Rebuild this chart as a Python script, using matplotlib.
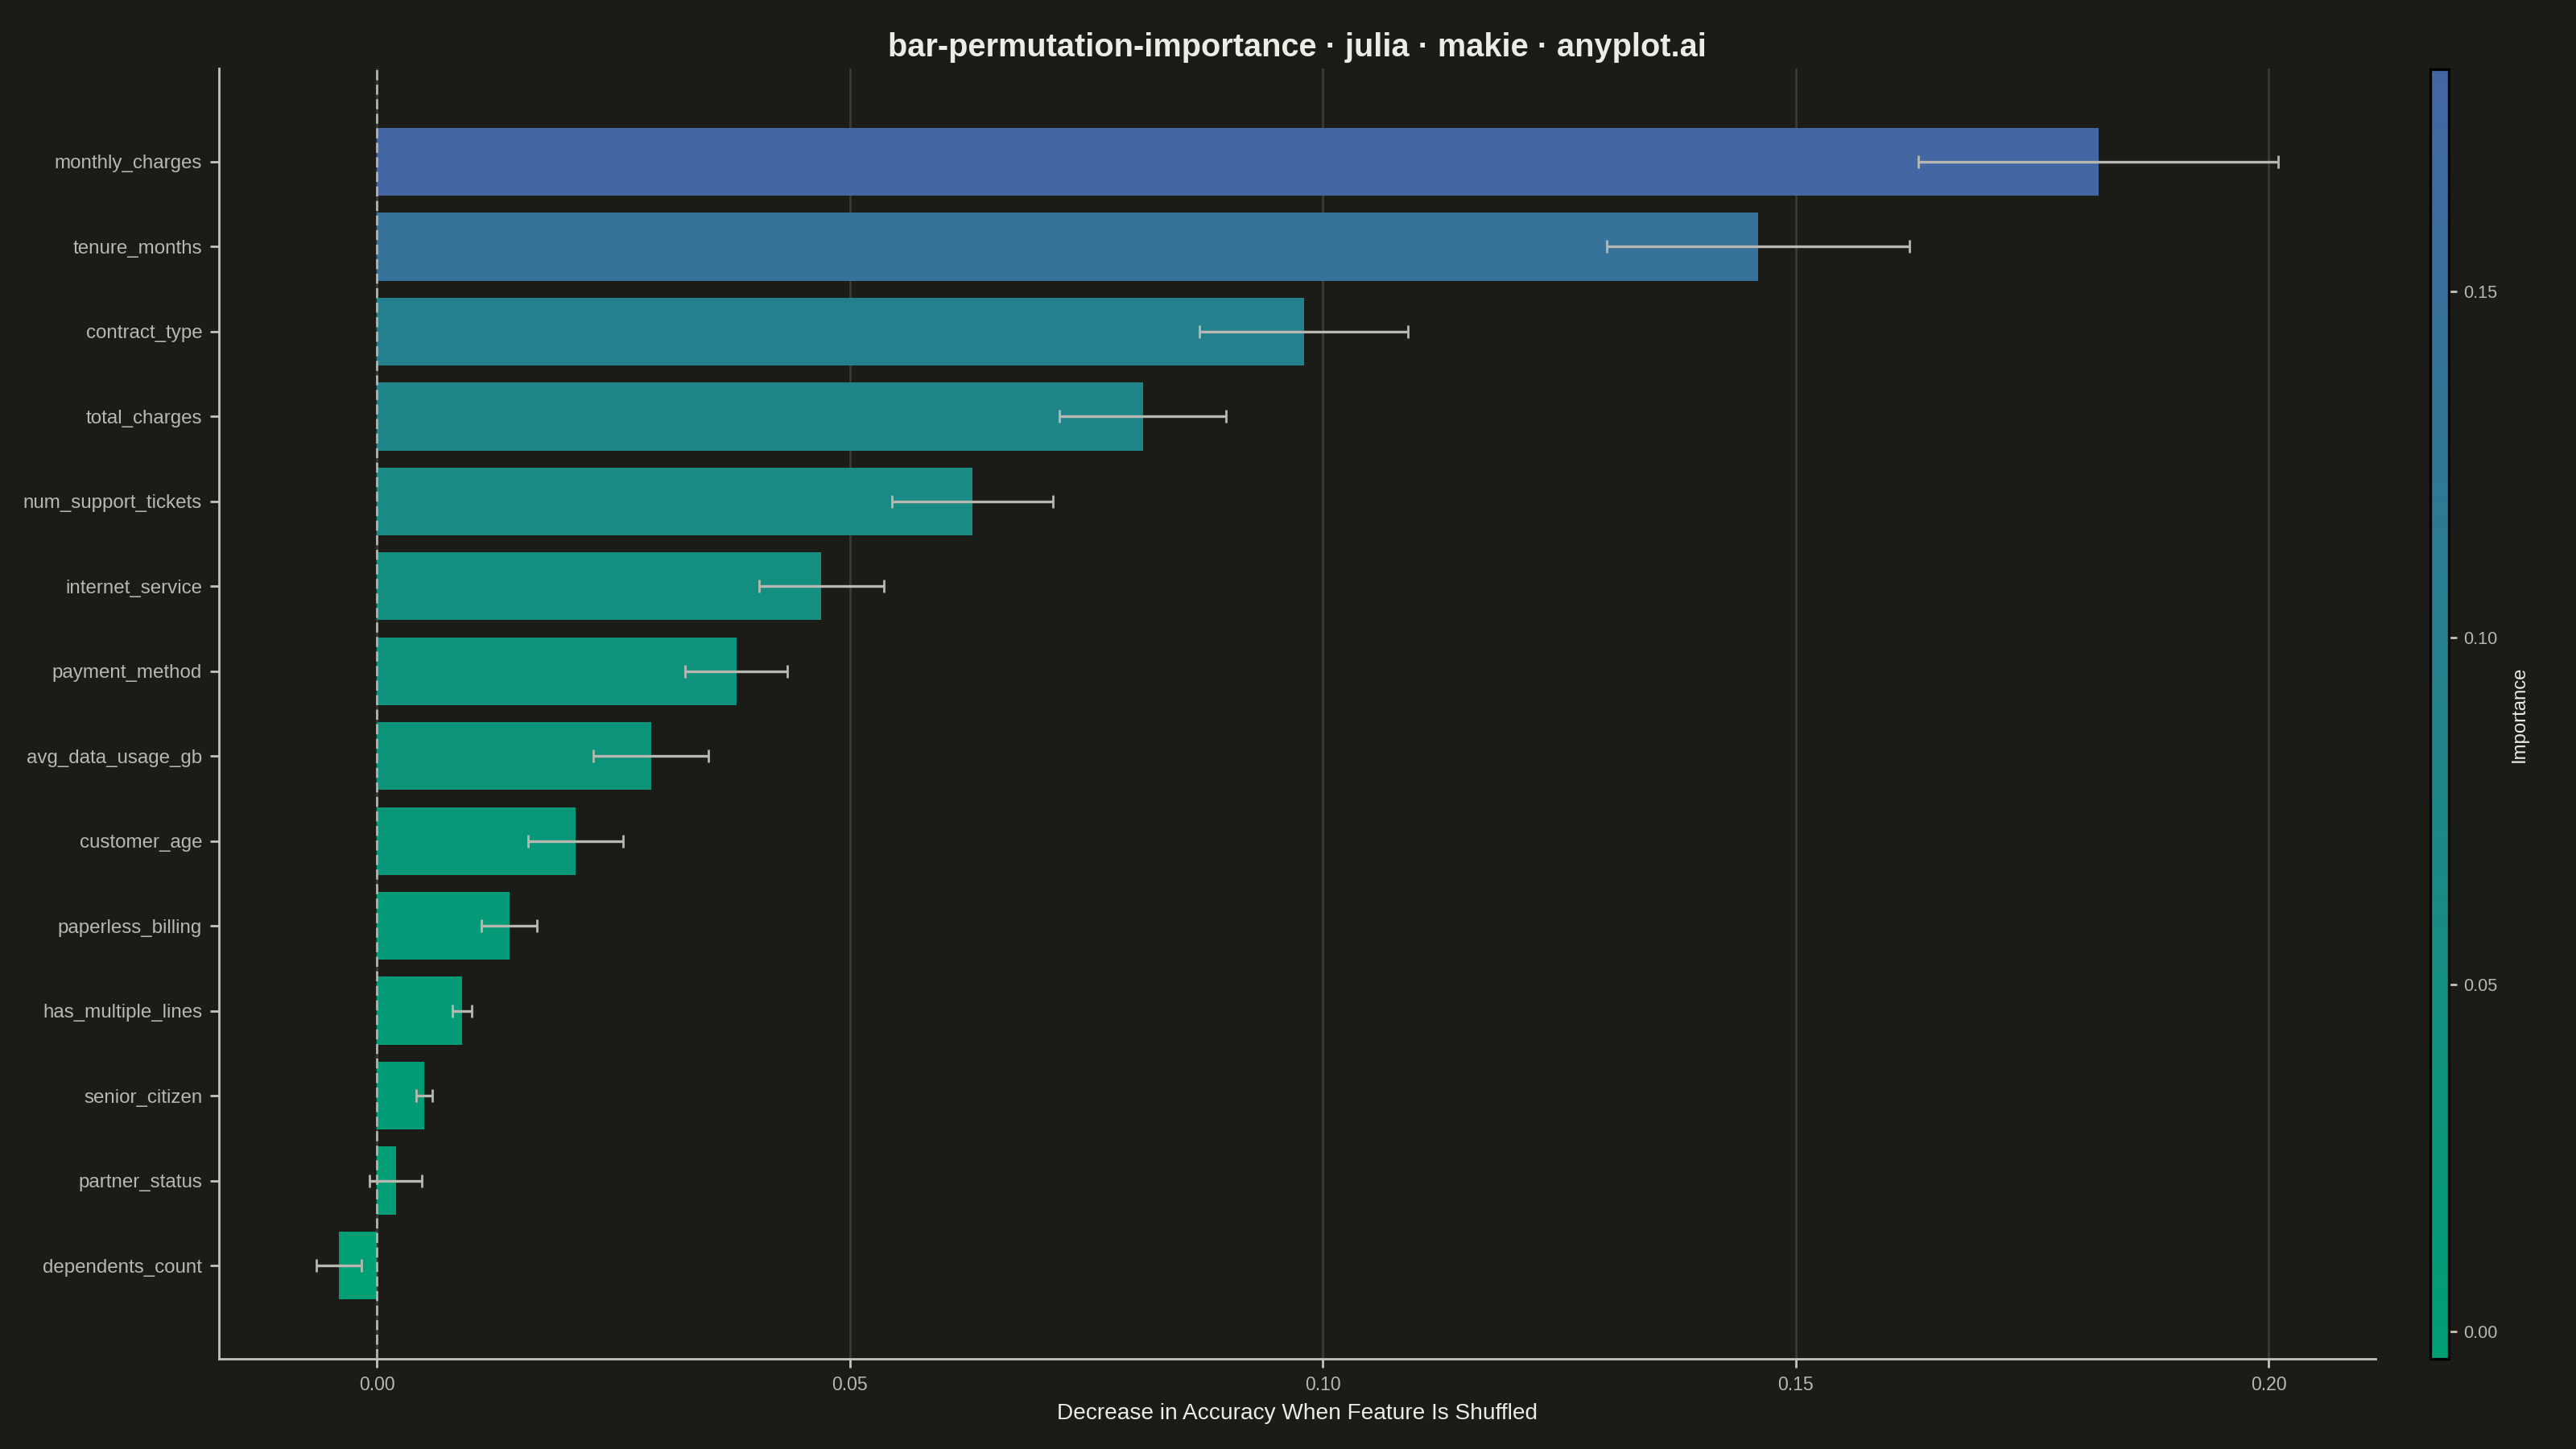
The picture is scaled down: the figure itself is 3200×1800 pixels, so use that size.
import numpy as np
import matplotlib
matplotlib.use("Agg")
import matplotlib.pyplot as plt
from matplotlib.colors import LinearSegmentedColormap, Normalize
from matplotlib.cm import ScalarMappable

# Permutation importance data (top feature first)
features = [
    "monthly_charges", "tenure_months", "contract_type", "total_charges",
    "num_support_tickets", "internet_service", "payment_method",
    "avg_data_usage_gb", "customer_age", "paperless_billing",
    "has_multiple_lines", "senior_citizen", "partner_status", "dependents_count",
]
importance_mean = [
    0.182, 0.146, 0.098, 0.081, 0.063, 0.047, 0.038,
    0.029, 0.021, 0.014, 0.009, 0.005, 0.002, -0.004,
]
importance_std = [
    0.019, 0.016, 0.011, 0.0088, 0.0085, 0.0066, 0.0054,
    0.0061, 0.0050, 0.0029, 0.0010, 0.00085, 0.0028, 0.0024,
]
xticks = [0.00, 0.05, 0.10, 0.15, 0.20]
cbar_ticks = [0.00, 0.05, 0.10, 0.15]

bg = "#1B1B18"
fg_tick = "#B8B8B0"
fg_text = "#ECEBE4"
spine_col = "#C4C4BC"

plt.rcParams["font.family"] = ["Liberation Sans", "DejaVu Sans"]

cmap = LinearSegmentedColormap.from_list("imp", ["#009E73", "#4467A3"])
norm = Normalize(vmin=min(importance_mean), vmax=max(importance_mean))

fig = plt.figure(figsize=(16, 9), dpi=200, facecolor=bg)
ax = fig.add_axes([0.085, 0.0622, 0.8372, 0.8906], facecolor=bg)
cax = fig.add_axes([0.9434, 0.0622, 0.0072, 0.8900])

n = len(features)
ypos = np.arange(n)[::-1]
colors = [cmap(norm(v)) for v in importance_mean]

ax.barh(ypos, importance_mean, height=0.8, color=colors, zorder=2)
ax.axvline(0, color="#B4B4AC", linestyle=(0, (4.5, 2.0)), linewidth=1.0, zorder=3)
ax.errorbar(
    importance_mean, ypos, xerr=importance_std, fmt="none",
    ecolor="#B8B8B0", elinewidth=1.2, capsize=3.0, capthick=1.0, zorder=4,
)

ax.set_xlim(-0.01668, 0.2113)
ax.set_ylim(-1.1, n - 1 + 1.1)
ax.set_xticks(xticks)
ax.set_xticklabels([f"{t:.2f}" for t in xticks])
ax.set_yticks(ypos)
ax.set_yticklabels(features)
ax.grid(axis="x", color="#3A3A36", linewidth=1.0, zorder=0)
ax.set_axisbelow(True)

for side in ["top", "right"]:
    ax.spines[side].set_visible(False)
for side in ["left", "bottom"]:
    ax.spines[side].set_color(spine_col)
    ax.spines[side].set_linewidth(1.0)

ax.tick_params(axis="both", colors=spine_col, labelcolor=fg_tick,
               labelsize=8.3, length=4, width=1.0, pad=3.5)
ax.tick_params(axis="y", labelsize=8.7)
ax.set_xlabel("Decrease in Accuracy When Feature Is Shuffled",
              fontsize=10.1, color=fg_text, labelpad=4)

fig.text(0.5036, 0.9672, "bar-permutation-importance · julia · makie · anyplot.ai",
         ha="center", va="center", fontsize=14.3, fontweight="bold", color=fg_text)

# Colorbar
sm = ScalarMappable(norm=norm, cmap=cmap)
cbar = fig.colorbar(sm, cax=cax)
cbar.set_ticks(cbar_ticks)
cbar.set_ticklabels([f"{t:.2f}" for t in cbar_ticks])
cbar.outline.set_edgecolor("black")
cbar.outline.set_linewidth(1.2)
cax.tick_params(colors=spine_col, labelcolor=fg_tick, labelsize=7.8,
                length=3.5, width=1.0, pad=3)
cbar.set_label("Importance", fontsize=8.6, color=fg_text, labelpad=6)

plt.savefig("out.png", dpi=200, facecolor=bg)
